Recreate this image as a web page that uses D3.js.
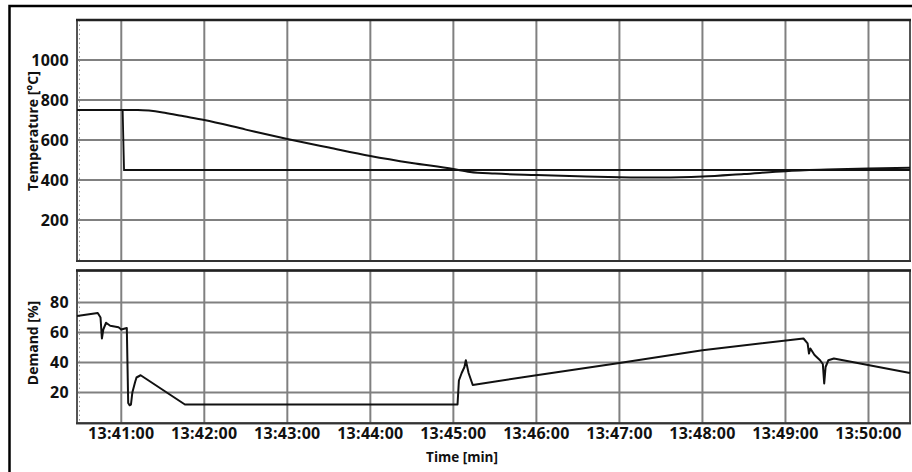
<!DOCTYPE html>
<html><head><meta charset="utf-8">
<script src="https://cdn.jsdelivr.net/npm/d3@7"></script>
<style>
html,body{margin:0;padding:0;background:#fff;}
svg{display:block;}
text{font-family:"Open Sans",sans-serif;font-weight:700;fill:#111;}
</style></head>
<body><svg id="c" width="912" height="472"></svg>
<script>
// ---- data ----
const xTicks = ["13:41:00","13:42:00","13:43:00","13:44:00","13:45:00","13:46:00","13:47:00","13:48:00","13:49:00","13:50:00"];
const tempTicks = [200,400,600,800,1000];
const demandTicks = [20,40,60,80];

const setpointTimes = ["13:40:28","13:41:01","13:41:02","13:50:30"];
const setpointValues = [750,750,450,450];

const tempTimes = ["13:40:28","13:41:12","13:41:20","13:41:30","13:41:42","13:42:00","13:42:30","13:43:00","13:43:30","13:44:00","13:44:30","13:45:00","13:45:12","13:45:30","13:46:00","13:46:30","13:47:00","13:47:30","13:48:00","13:48:30","13:49:00","13:49:30","13:50:00","13:50:30"];
const tempValues = [750,750,747,738,722,700,652,605,562,520,485,455,440,432,425,419,414,412,417,430,444,452,458,461];

const demandTimes = ["13:40:28","13:40:43","13:40:45","13:40:46","13:40:47","13:40:49","13:40:52","13:40:55","13:40:58","13:41:00","13:41:04","13:41:05","13:41:06","13:41:07","13:41:08","13:41:10","13:41:11","13:41:14","13:41:46","13:45:03","13:45:04","13:45:06","13:45:08","13:45:09","13:45:11","13:45:14","13:46:00","13:47:00","13:48:00","13:49:13","13:49:16","13:49:17","13:49:18","13:49:21","13:49:25","13:49:27","13:49:28","13:49:29","13:49:31","13:49:35","13:50:30"];
const demandValues = [71,73,70,56,62,66.5,64.5,64,63.5,62,63,13,11.5,12,20,27,30,31.5,12,12,28,33,37,41.5,33,25,31.5,39.7,48.2,56,52.7,46,49.3,45,41.5,39,26,37,41.5,42.7,33];

// ---- drawing ----
const parse = d3.timeParse("%H:%M:%S");
const svg = d3.select("#c");
const L = 77, R = 910;

const x = d3.scaleTime().domain([parse("13:40:28"), parse("13:50:30")]).range([L, R]);
const yT = d3.scaleLinear().domain([0,1200]).range([260,20]);
const yD = d3.scaleLinear().domain([0,101.5]).range([422.5,270.25]);

// outer frame
svg.append("rect").attr("x",9.5).attr("y",6).attr("width",1000).attr("height",1000)
  .attr("fill","none").attr("stroke","#000").attr("stroke-width",2.5);

function panel(y, ticks, top, bottom, label, labelY){
  const g = svg.append("g");
  g.selectAll(".vg").data(xTicks).join("line")
    .attr("x1",d=>x(parse(d))).attr("x2",d=>x(parse(d)))
    .attr("y1",top).attr("y2",bottom)
    .attr("stroke","#808080").attr("stroke-width",2);
  g.selectAll(".hg").data(ticks).join("line")
    .attr("x1",L).attr("x2",R).attr("y1",d=>y(d)).attr("y2",d=>y(d))
    .attr("stroke","#808080").attr("stroke-width",2);
  g.append("line").attr("x1",L+2.5).attr("x2",L+2.5).attr("y1",top).attr("y2",bottom)
    .attr("stroke","#9a9a9a").attr("stroke-width",1).attr("stroke-dasharray","1.5,3");
  g.append("rect").attr("x",L).attr("y",top).attr("width",R-L).attr("height",bottom-top)
    .attr("fill","none").attr("stroke","#555").attr("stroke-width",2);
  g.append("line").attr("x1",L-1).attr("x2",R+1).attr("y1",top).attr("y2",top)
    .attr("stroke","#222").attr("stroke-width",2.5);
  g.append("line").attr("x1",L-1).attr("x2",R+1).attr("y1",bottom).attr("y2",bottom)
    .attr("stroke","#333").attr("stroke-width",2);
  g.selectAll(".tl").data(ticks).join("text")
    .attr("x",L-8).attr("y",d=>y(d)).attr("dy","0.36em")
    .attr("text-anchor","end").style("font-size","16px").style("letter-spacing","0.3px")
    .text(d=>d);
  g.append("text").attr("transform",`translate(33,${labelY}) rotate(-90)`)
    .attr("text-anchor","middle").attr("dy","0.35em").style("font-size","14px").text(label);
}

panel(yT, tempTicks, 20, 261, "Temperature [°C]", 131);
panel(yD, demandTicks, 270.5, 423.3, "Demand [%]", 343);

svg.selectAll(".xt").data(xTicks).join("text")
  .attr("x",d=>x(parse(d))).attr("y",433).attr("dy","0.36em")
  .attr("text-anchor","middle").style("font-size","16px").style("letter-spacing","0.3px")
  .text(d=>d);
svg.append("text").attr("x",462).attr("y",457).attr("dy","0.36em")
  .attr("text-anchor","middle").style("font-size","13.5px").text("Time [min]");

const zipT = (ts, vs) => ts.map((t,i)=>({t:parse(t), v:vs[i]}));
const lineT = d3.line().x(d=>x(d.t)).y(d=>yT(d.v));
const lineTs = d3.line().x(d=>x(d.t)).y(d=>yT(d.v)).curve(d3.curveMonotoneX);
const lineD = d3.line().x(d=>x(d.t)).y(d=>yD(d.v));

svg.append("path").datum(zipT(setpointTimes,setpointValues)).attr("d",lineT)
  .attr("fill","none").attr("stroke","#111").attr("stroke-width",1.8);
svg.append("path").datum(zipT(tempTimes,tempValues)).attr("d",lineTs)
  .attr("fill","none").attr("stroke","#111").attr("stroke-width",2);
svg.append("path").datum(zipT(demandTimes,demandValues)).attr("d",lineD)
  .attr("fill","none").attr("stroke","#111").attr("stroke-width",2).attr("stroke-linejoin","round");
</script></body></html>
